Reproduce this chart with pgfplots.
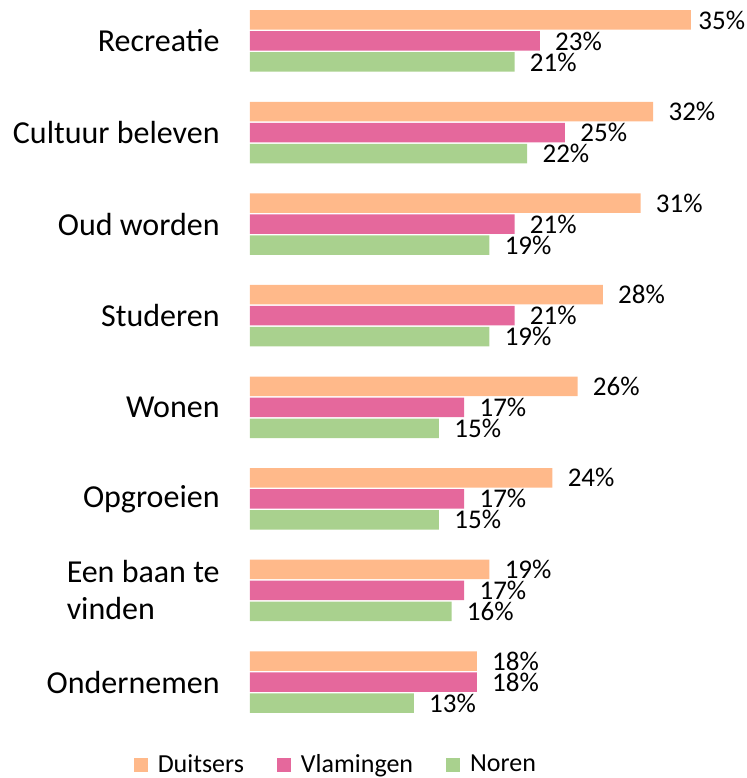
\documentclass[border=0pt]{standalone}
\usepackage{pgfplots}
\usepackage{pgfplotstable}
\pgfplotsset{compat=1.18}
\usepackage{fontspec}
\setmainfont{Carlito}
\definecolor{cOr}{HTML}{FFB98A}
\definecolor{cPk}{HTML}{E5689C}
\definecolor{cGr}{HTML}{A9D18E}
\pgfplotstableread{
y x off
0 18 7.5
1 19 7.5
2 24 7.5
3 26 7.5
4 28 7.5
5 31 7.5
6 32 7.5
7 35 3.5
}\duitsers
\pgfplotstableread{
y x off
0 18 7.5
1 17 7.5
2 17 7.5
3 17 7.5
4 21 7.5
5 21 7.5
6 25 7.5
7 23 7.5
}\vlamingen
\pgfplotstableread{
y x off
0 13 7.5
1 16 7.5
2 15 7.5
3 15 7.5
4 19 7.5
5 19 7.5
6 22 7.5
7 21 7.5
}\noren
\begin{document}
\begin{tikzpicture}
\begin{axis}[
  scale only axis, width=220.5pt, height=353.5pt,
  at={(0,0)}, anchor=south west,
  xmin=0, xmax=35, ymin=-0.36, ymax=7.36,
  xbar, bar width=9.75pt,
  axis line style={draw=none},
  xtick=\empty,
  ytick={0,...,7},
  yticklabels={Ondernemen,{Een baan te\\vinden},Opgroeien,Wonen,Studeren,Oud worden,Cultuur beleven,Recreatie},
  major tick length=0pt,
  yticklabel style={font=\fontsize{16}{18.5}\selectfont, align=left, inner sep=0pt, xshift=-15pt, anchor=east},
  clip=false,
  /pgf/number format/assume math mode=true,
  visualization depends on={\thisrow{off} \as \off},
  nodes near coords={\pgfmathprintnumber{\pgfplotspointmeta}\%},
  nodes near coords style={font=\fontsize{13.5}{16}\selectfont, anchor=west, inner sep=0pt, xshift=\off pt},
  point meta=explicit,
  legend image code/.code={\fill[#1] (0pt,-3.5pt) rectangle (7pt,3.5pt);},
  legend style={at={(axis description cs:0.197,-0.0707)}, anchor=center, draw=none, legend columns=-1, font=\fontsize{13}{15}\selectfont,
    /tikz/every odd column/.append style={column sep=3pt},
    /tikz/every even column/.append style={column sep=14.5pt}},
]
\addplot[fill=cOr, draw=none, bar shift=10.5pt] table[x=x, y=y, meta=x] {\duitsers};
\addplot[fill=cPk, draw=none, bar shift=0pt] table[x=x, y=y, meta=x] {\vlamingen};
\addplot[fill=cGr, draw=none, bar shift=-10.5pt] table[x=x, y=y, meta=x] {\noren};
\legend{Duitsers,Vlamingen,Noren}
\end{axis}
\pgfresetboundingbox
\path (-125pt,-31.5pt) rectangle (248.5pt,357.5pt);
\end{tikzpicture}
\end{document}
